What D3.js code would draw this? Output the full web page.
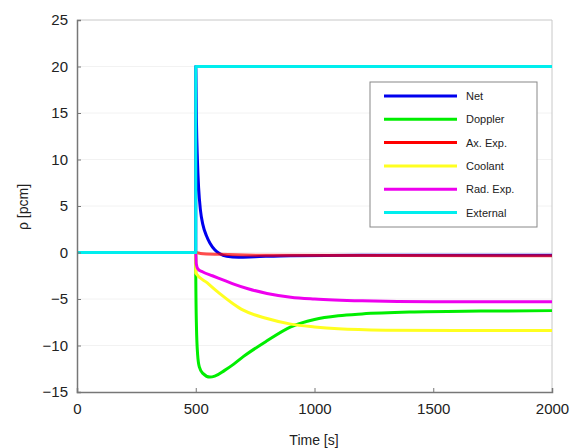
<!DOCTYPE html>
<html><head><meta charset="utf-8">
<script src="https://cdn.jsdelivr.net/npm/d3@7"></script>
<style>body{margin:0;background:#fff;} text{font-family:Arial,"Liberation Sans",sans-serif;}</style>
</head><body>
<svg id="chart" width="574" height="448"></svg>
<script>
const xTicks = [0, 500, 1000, 1500, 2000];
const yTicks = [-15, -10, -5, 0, 5, 10, 15, 20, 25];
const seriesNames = ["Net", "Doppler", "Ax. Exp.", "Coolant", "Rad. Exp.", "External"];
const seriesColors = ["#0000ee", "#00ee00", "#ff0000", "#ffff20", "#ee00ee", "#00eeee"];

const netT = [0, 500, 500.1, 503, 507, 512, 520, 530, 545, 560, 580, 600, 630, 680, 750, 900, 1200, 2000];
const netV = [0, 0, 20, 14, 10, 7, 4.5, 3, 1.8, 1.0, 0.3, -0.1, -0.4, -0.5, -0.45, -0.35, -0.3, -0.3];
const dopT = [0, 500, 500.1, 503, 508, 515, 530, 560, 580, 620, 660, 700, 800, 900, 1000, 1100, 1200, 1400, 1700, 2000];
const dopV = [0, 0, -2.5, -8, -11, -12.3, -13.0, -13.4, -13.3, -12.7, -12, -11.2, -9.5, -8.0, -7.2, -6.8, -6.6, -6.4, -6.3, -6.25];
const axT = [0, 500, 520, 600, 800, 2000];
const axV = [0, 0, -0.1, -0.2, -0.3, -0.35];
const coolT = [0, 500, 500.1, 550, 600, 657, 700, 800, 900, 1000, 1100, 1300, 1600, 2000];
const coolV = [0, 0, -2.2, -3.3, -4.4, -5.5, -6.2, -7.1, -7.7, -8.0, -8.2, -8.35, -8.4, -8.4];
const radT = [0, 500, 502, 510, 530, 570, 620, 660, 720, 800, 900, 1000, 1200, 1500, 2000];
const radV = [0, 0, -1.2, -1.8, -2.1, -2.5, -3.0, -3.4, -3.9, -4.4, -4.8, -5.0, -5.2, -5.3, -5.3];
const extT = [0, 500, 500.1, 2000];
const extV = [0, 0, 20, 20];

const series = [[netT, netV], [dopT, dopV], [axT, axV], [coolT, coolV], [radT, radV], [extT, extV]];

const svg = d3.select("#chart");
const L = 77, R = 552, T = 20, B = 392;
const x = d3.scaleLinear().domain([0, 2000]).range([L, R]);
const y = d3.scaleLinear().domain([-15, 25]).range([B, T]);

// faint grid
svg.append("g").selectAll("line").data(yTicks.slice(1, -1)).join("line")
  .attr("x1", L).attr("x2", R).attr("y1", d => y(d)).attr("y2", d => y(d))
  .attr("stroke", "#f2f2f2").attr("stroke-width", 1);

// box top/right
svg.append("line").attr("x1", L).attr("x2", R).attr("y1", T).attr("y2", T).attr("stroke", "#c8c8c8");
svg.append("line").attr("x1", R).attr("x2", R).attr("y1", T).attr("y2", B).attr("stroke", "#c8c8c8");

const line = d3.line().x(d => x(d[0])).y(d => y(d[1])).curve(d3.curveMonotoneX);
series.forEach((s, i) => {
  const pts = s[0].map((t, j) => [t, s[1][j]]);
  svg.append("path").attr("d", line(pts)).attr("fill", "none")
    .attr("stroke", seriesColors[i]).attr("stroke-width", 3)
    .attr("stroke-linejoin", "round")
    .attr("opacity", i === 2 ? 0.7 : 1);
});

// axes
const fmt = d3.format("d");
const xAxis = d3.axisBottom(x).tickValues(xTicks).tickFormat(fmt).tickSize(-4).tickPadding(11);
const gx = svg.append("g").attr("transform", `translate(0,${B})`).call(xAxis);
gx.select(".domain").attr("stroke", "#777").attr("stroke-width", 1.5);
gx.selectAll(".tick line").attr("stroke", "#777");
gx.selectAll("text").attr("font-size", 15).attr("fill", "#222");

const yAxis = d3.axisLeft(y).tickValues(yTicks).tickFormat(fmt).tickSize(-4).tickPadding(9);
const gy = svg.append("g").attr("transform", `translate(${L},0)`).call(yAxis);
gy.select(".domain").attr("stroke", "#777").attr("stroke-width", 1.5);
gy.selectAll(".tick line").attr("stroke", "#777");
gy.selectAll("text").attr("font-size", 15).attr("fill", "#222");

svg.append("text").attr("x", 314).attr("y", 445).attr("text-anchor", "middle")
  .attr("font-size", 14).attr("fill", "#222").text("Time [s]");
svg.append("text").attr("transform", "translate(28,207) rotate(-90)").attr("text-anchor", "middle")
  .attr("font-size", 14).attr("fill", "#222").text("ρ [pcm]");

// legend
const lg = svg.append("g");
lg.append("rect").attr("x", 370).attr("y", 82).attr("width", 167).attr("height", 145)
  .attr("fill", "#fff").attr("stroke", "#888").attr("stroke-width", 1);
seriesNames.forEach((n, i) => {
  const yy = 96 + i * 23.3;
  lg.append("line").attr("x1", 384).attr("x2", 457).attr("y1", yy).attr("y2", yy)
    .attr("stroke", seriesColors[i]).attr("stroke-width", 3);
  lg.append("text").attr("x", 466).attr("y", yy + 4).attr("font-size", 11).attr("fill", "#222").text(n);
});
</script>
</body></html>
